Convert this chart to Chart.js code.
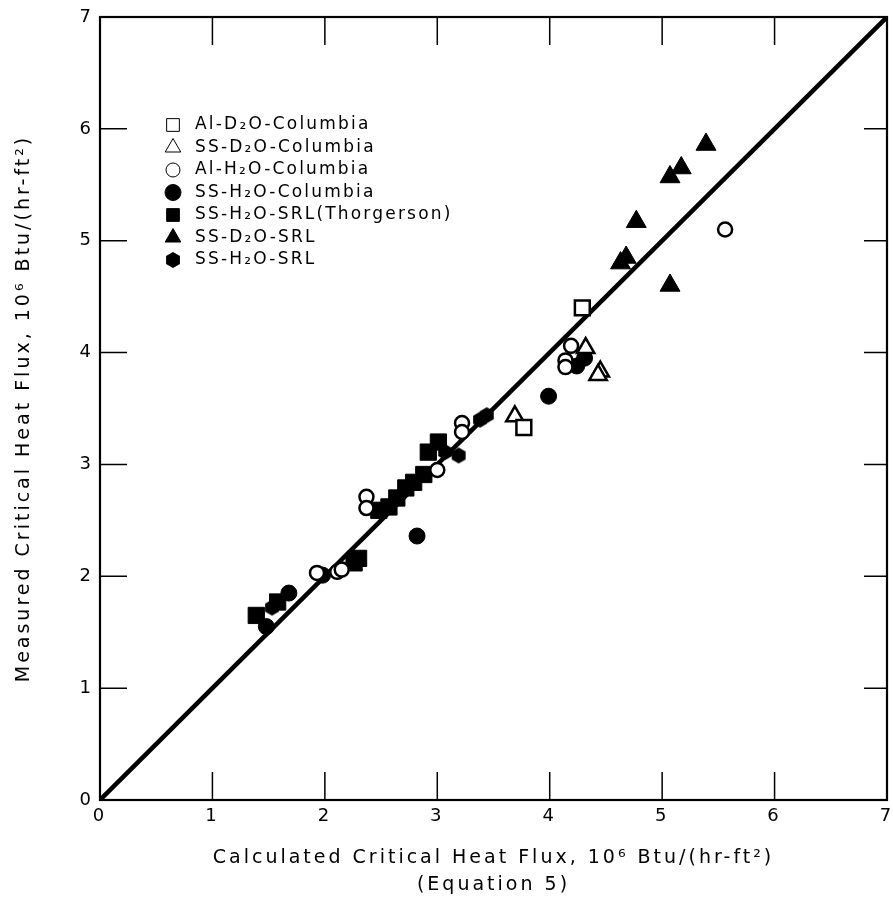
<!DOCTYPE html>
<html>
<head>
<meta charset="utf-8">
<script src="https://cdn.jsdelivr.net/npm/chart.js@4.4.1/dist/chart.umd.min.js"></script>
<style>
  body { margin: 0; background: #fff; }
  canvas { display: block; }
</style>
</head>
<body>
<canvas id="chfChart" width="893" height="917"></canvas>
<script>
// series: [calculated, measured] in 10^6 Btu/(hr-ft2)
const seriesNames = [
  "Al-D₂O-Columbia",
  "SS-D₂O-Columbia",
  "Al-H₂O-Columbia",
  "SS-H₂O-Columbia",
  "SS-H₂O-SRL(Thorgerson)",
  "SS-D₂O-SRL",
  "SS-H₂O-SRL",
];
const alD2oColumbia = [[4.29, 4.40], [3.77, 3.33]];
const ssD2oColumbia = [[4.32, 4.04], [4.45, 3.83], [4.43, 3.80], [3.69, 3.43]];
const alH2oColumbia = [
  [4.19, 4.06], [4.14, 3.93], [4.14, 3.87], [5.56, 5.10], [3.22, 3.37], [3.22, 3.29],
  [3.00, 2.95], [2.37, 2.71], [2.37, 2.61], [1.93, 2.03], [2.11, 2.04], [2.15, 2.06],
];
const ssH2oColumbia = [
  [4.24, 3.88], [4.31, 3.95], [3.99, 3.61], [2.82, 2.36], [1.98, 2.01], [1.48, 1.55], [1.68, 1.85],
];
const ssH2oThorgerson = [
  [2.64, 2.70], [2.57, 2.62], [2.48, 2.59], [2.30, 2.16], [2.26, 2.12], [1.39, 1.65],
  [1.58, 1.77], [2.72, 2.79], [2.79, 2.84], [2.92, 3.11], [3.01, 3.20], [2.88, 2.91],
];
const ssD2oSrl = [
  [5.39, 5.86], [5.17, 5.65], [5.07, 5.57], [4.77, 5.17], [4.68, 4.85], [4.63, 4.80], [5.07, 4.60],
];
const ssH2oSrl = [[3.07, 3.11], [3.19, 3.08], [3.38, 3.40], [3.44, 3.44], [1.53, 1.72]];
const fitLine = [[0, 0], [7, 7]];
const axisTicks = [0, 1, 2, 3, 4, 5, 6, 7];
const xTitle = ["Calculated Critical Heat Flux, 10⁶ Btu/(hr-ft²)", "(Equation 5)"];
const yTitle = "Measured Critical Heat Flux, 10⁶ Btu/(hr-ft²)";

const FONT = "'DejaVu Sans', sans-serif";
Chart.defaults.font.family = FONT;
Chart.defaults.color = "#000";

function hexagon(r) {
  const c = document.createElement("canvas");
  c.width = c.height = 2 * r + 2;
  const g = c.getContext("2d");
  g.beginPath();
  for (let i = 0; i < 6; i++) {
    const a = (Math.PI / 3) * i + Math.PI / 6;
    const px = r + 1 + r * Math.cos(a), py = r + 1 + r * Math.sin(a);
    i ? g.lineTo(px, py) : g.moveTo(px, py);
  }
  g.closePath();
  g.fillStyle = "#000";
  g.fill();
  return c;
}

const toXY = (arr) => arr.map(([x, y]) => ({ x, y }));
const open = { pointBackgroundColor: "#fff", pointBorderColor: "#000", pointBorderWidth: 2.5 };
const filled = { pointBackgroundColor: "#000", pointBorderColor: "#000", pointBorderWidth: 1 };

const markerSets = [
  { data: alD2oColumbia, pointStyle: "rect", pointRadius: 10.5, ...open },
  { data: ssD2oColumbia, pointStyle: "triangle", pointRadius: 10, ...open },
  { data: alH2oColumbia, pointStyle: "circle", pointRadius: 7, ...open },
  { data: ssH2oColumbia, pointStyle: "circle", pointRadius: 8, ...filled },
  { data: ssH2oThorgerson, pointStyle: "rect", pointRadius: 11.5, ...filled },
  { data: ssD2oSrl, pointStyle: "triangle", pointRadius: 11.5, ...filled },
  { data: ssH2oSrl, pointStyle: hexagon(8), pointRadius: 8, ...filled },
];

const datasets = markerSets.map((m, i) => ({
  label: seriesNames[i],
  ...m,
  data: toXY(m.data),
  showLine: false,
}));
datasets.push({
  label: "fit",
  type: "line",
  data: toXY(fitLine),
  borderColor: "#000",
  borderWidth: 4.5,
  pointRadius: 0,
});

// no extra room for the end tick labels: the frame runs near the page edge
const noEdgePadding = (s) => {
  s.paddingLeft = s.paddingRight = s.paddingTop = s.paddingBottom = 0;
};

// inward tick marks on all four sides plus the frame
const frameTicks = {
  id: "frameTicks",
  beforeDraw(chart) {
    chart.ctx.letterSpacing = "3px";
  },
  afterDatasetsDraw(chart) {
    const { ctx, chartArea: a, scales } = chart;
    ctx.save();
    ctx.strokeStyle = "#000";
    ctx.lineWidth = 1.5;
    ctx.beginPath();
    axisTicks.slice(1, -1).forEach((v) => {
      const px = scales.x.getPixelForValue(v);
      const py = scales.y.getPixelForValue(v);
      ctx.moveTo(px, a.bottom); ctx.lineTo(px, a.bottom - 28);
      ctx.moveTo(px, a.top); ctx.lineTo(px, a.top + 28);
      ctx.moveTo(a.left, py); ctx.lineTo(a.left + 27, py);
      ctx.moveTo(a.right, py); ctx.lineTo(a.right - 23, py);
    });
    ctx.stroke();
    ctx.lineWidth = 2.2;
    ctx.strokeRect(a.left, a.top, a.right - a.left, a.bottom - a.top);
    ctx.restore();
  },
};

// legend inside the plot, top left
const insideLegend = {
  id: "insideLegend",
  afterDraw(chart) {
    const { ctx, chartArea: a } = chart;
    const x0 = a.left + 73, y0 = a.top + 108, step = 22.5;
    ctx.save();
    ctx.letterSpacing = "2.2px";
    ctx.font = "17px " + FONT;
    ctx.textBaseline = "middle";
    markerSets.forEach((m, i) => {
      const y = y0 + i * step;
      ctx.fillStyle = m.pointBackgroundColor;
      ctx.strokeStyle = m.pointBorderColor;
      Chart.helpers.drawPoint(ctx, {
        pointStyle: m.pointStyle,
        radius: Math.min(m.pointRadius, 9),
        rotation: 0,
        borderWidth: m.pointBorderWidth,
      }, x0, y);
      ctx.fillStyle = "#000";
      ctx.fillText(seriesNames[i], x0 + 22, y);
    });
    ctx.restore();
  },
};

new Chart(document.getElementById("chfChart"), {
  type: "scatter",
  data: { datasets },
  options: {
    responsive: false,
    animation: false,
    layout: { autoPadding: false, padding: { top: 17, right: 6, left: 0, bottom: 0 } },
    plugins: { legend: { display: false }, tooltip: { enabled: false } },
    scales: {
      x: {
        type: "linear",
        min: 0,
        max: 7,
        afterBuildTicks: (s) => { s.ticks = axisTicks.map((v) => ({ value: v })); },
        afterFit: (s) => { s.height = 117; noEdgePadding(s); },
        grid: { display: false, drawTicks: false },
        border: { display: false },
        ticks: { font: { size: 18 }, padding: 6 },
        title: {
          display: true,
          text: xTitle,
          font: { size: 19, lineHeight: 1.45 },
          padding: { top: 0, bottom: 18 },
        },
      },
      y: {
        type: "linear",
        min: 0,
        max: 7,
        afterBuildTicks: (s) => { s.ticks = axisTicks.map((v) => ({ value: v })); },
        afterFit: (s) => { s.width = 100; noEdgePadding(s); },
        grid: { display: false, drawTicks: false },
        border: { display: false },
        ticks: { font: { size: 18 }, padding: 6 },
        title: {
          display: true,
          text: yTitle,
          font: { size: 19, lineHeight: 1.45 },
          padding: { top: 10, bottom: 0 },
        },
      },
    },
  },
  plugins: [frameTicks, insideLegend],
});
</script>
</body>
</html>
